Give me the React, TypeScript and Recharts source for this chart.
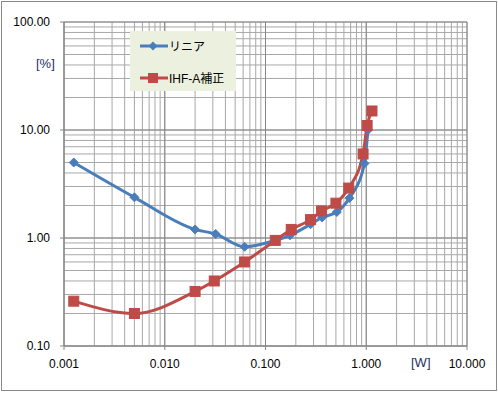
import React from "react";
import { LineChart, Line, XAxis, YAxis, CartesianGrid } from "recharts";

const blueName = "リニア";
const redName = "IHF-A補正";

const blueX = [0.00125, 0.005, 0.02, 0.032, 0.062, 0.125, 0.175, 0.28, 0.365, 0.51, 0.68, 0.96, 1.04];
const blueY = [5.0, 2.38, 1.2, 1.09, 0.83, 0.95, 1.06, 1.34, 1.55, 1.74, 2.34, 4.9, 10.0];

const redX = [0.00125, 0.005, 0.02, 0.031, 0.062, 0.125, 0.18, 0.28, 0.36, 0.5, 0.67, 0.93, 1.02, 1.14];
const redY = [0.26, 0.2, 0.32, 0.4, 0.6, 0.95, 1.2, 1.48, 1.78, 2.1, 2.9, 6.0, 11.0, 15.0];

const xTicks = [0.001, 0.01, 0.1, 1, 10];
const yTicks = [0.1, 1, 10, 100];
const xMinorTicks = [
  0.001, 0.002, 0.003, 0.004, 0.005, 0.006, 0.007, 0.008, 0.009,
  0.01, 0.02, 0.03, 0.04, 0.05, 0.06, 0.07, 0.08, 0.09,
  0.1, 0.2, 0.3, 0.4, 0.5, 0.6, 0.7, 0.8, 0.9,
  1, 2, 3, 4, 5, 6, 7, 8, 9, 10,
];
const yMinorTicks = [
  0.1, 0.2, 0.3, 0.4, 0.5, 0.6, 0.7, 0.8, 0.9,
  1, 2, 3, 4, 5, 6, 7, 8, 9,
  10, 20, 30, 40, 50, 60, 70, 80, 90, 100,
];

const blueData = blueX.map((x, i) => ({ x, y: blueY[i] }));
const redData = redX.map((x, i) => ({ x, y: redY[i] }));

const BLUE = "#4A7EBB";
const RED = "#BE4B48";
const FONT = "'Liberation Sans', Arial, 'Noto Sans CJK JP', sans-serif";

const diamondDot = (props: any) => {
  const { cx, cy, index } = props;
  if (cx == null || cy == null) return <g key={`bd${index}`} />;
  const r = 4.5;
  return (
    <polygon
      key={`bd${index}`}
      points={`${cx},${cy - r} ${cx + r},${cy} ${cx},${cy + r} ${cx - r},${cy}`}
      fill={BLUE}
      stroke={BLUE}
      strokeWidth={1}
    />
  );
};

const squareDot = (props: any) => {
  const { cx, cy, index } = props;
  if (cx == null || cy == null) return <g key={`rs${index}`} />;
  const h = 5;
  return <rect key={`rs${index}`} x={cx - h} y={cy - h} width={2 * h} height={2 * h} fill={RED} stroke={RED} />;
};

export default function App() {
  return (
    <div style={{ position: "absolute", left: 0, top: 0, width: 498, height: 393, background: "#fff", fontFamily: FONT }}>
      <div
        style={{
          position: "absolute",
          left: 1,
          top: 1,
          width: 494,
          height: 388,
          border: "1px solid #8a8a8a",
        }}
      />
      <div style={{ position: "absolute", left: 0, top: 0 }}>
        <LineChart width={498} height={393} margin={{ top: 22, right: 31, bottom: 17, left: 0 }}>
          <CartesianGrid verticalValues={xMinorTicks} horizontalValues={yMinorTicks} stroke="#a8a8a8" strokeWidth={1} />
          <CartesianGrid verticalValues={xTicks} horizontalValues={yTicks} stroke="#868686" strokeWidth={1} fill="none" />
          <XAxis
            dataKey="x"
            type="number"
            scale="log"
            domain={[0.001, 10]}
            ticks={xTicks}
            interval={0}
            allowDataOverflow
            height={30}
            tickSize={4}
            tickMargin={9}
            stroke="#868686"
            tick={{ fill: "#000", fontSize: 12, fontFamily: FONT }}
            tickFormatter={(v: number) => v.toFixed(3)}
          />
          <YAxis
            dataKey="y"
            type="number"
            scale="log"
            domain={[0.1, 100]}
            ticks={yTicks}
            interval={0}
            allowDataOverflow
            width={64}
            tickSize={4}
            tickMargin={10}
            stroke="#868686"
            tick={{ fill: "#000", fontSize: 12, fontFamily: FONT }}
            tickFormatter={(v: number) => v.toFixed(2)}
          />
          <Line
            data={blueData}
            dataKey="y"
            name={blueName}
            type="monotone"
            stroke={BLUE}
            strokeWidth={3}
            dot={diamondDot}
            isAnimationActive={false}
          />
          <Line
            data={redData}
            dataKey="y"
            name={redName}
            type="monotone"
            stroke={RED}
            strokeWidth={3}
            dot={squareDot}
            isAnimationActive={false}
          />
        </LineChart>
      </div>
      <div style={{ position: "absolute", left: 36, top: 56, fontSize: 13, color: "#1F2F5F" }}>[%]</div>
      <div style={{ position: "absolute", left: 411, top: 355, fontSize: 13, color: "#1F2F5F" }}>[W]</div>
      <div
        style={{
          position: "absolute",
          left: 130,
          top: 31,
          width: 106,
          height: 60,
          background: "#EBF1DE",
          fontSize: 12,
          color: "#000",
        }}
      >
        <div style={{ position: "absolute", left: 10, top: 6, display: "flex", alignItems: "center" }}>
          <svg width={28} height={14} style={{ display: "block" }}>
            <line x1={0} y1={7} x2={28} y2={7} stroke={BLUE} strokeWidth={3} />
            <polygon points="13,2.5 17.5,7 13,11.5 8.5,7" fill={BLUE} />
          </svg>
          <span style={{ marginLeft: 1 }}>{blueName}</span>
        </div>
        <div style={{ position: "absolute", left: 10, top: 38, display: "flex", alignItems: "center" }}>
          <svg width={28} height={14} style={{ display: "block" }}>
            <line x1={0} y1={7} x2={28} y2={7} stroke={RED} strokeWidth={3} />
            <rect x={8} y={2} width={10} height={10} fill={RED} />
          </svg>
          <span style={{ marginLeft: 1 }}>{redName}</span>
        </div>
      </div>
    </div>
  );
}
